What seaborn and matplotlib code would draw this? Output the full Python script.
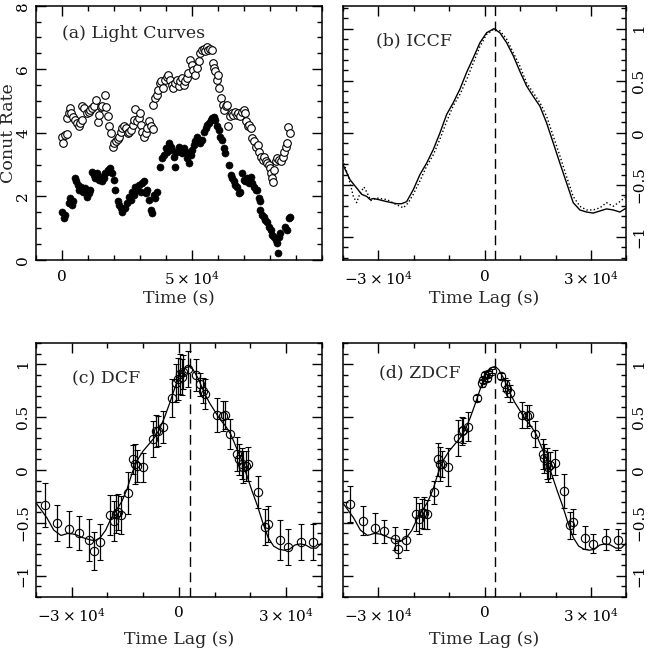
import numpy as np
import pandas as pd
import seaborn as sns
import matplotlib
matplotlib.use("Agg")
import matplotlib.pyplot as plt
from matplotlib.ticker import FixedLocator, MultipleLocator

# ---------------- data ----------------
# Light curves: time (s) and count rate for the two bands
soft_time = [0, 300, 1000, 1900, 2100, 2600, 3100, 3600, 4100, 4900, 5600, 6400, 6900, 7600,
             7900, 8600, 9500, 10300, 10900, 11500, 12400, 13100, 13800, 14400, 15000, 15600,
             16400, 16900, 17600, 18200, 18800, 19500, 20100, 20800, 21400, 22100, 22700,
             23300, 24000, 24600, 25300, 25900, 26500, 27200, 27800, 28200, 28700, 29500,
             30000, 30500, 31000, 31700, 32300, 32900, 33600, 34200, 34900, 35100, 35800,
             36400, 37100, 37700, 38300, 39000, 39600, 40300, 41000, 41700, 42300, 42900,
             43600, 44200, 44900, 45500, 46200, 46800, 47400, 48100, 48700, 49400, 50000,
             50600, 51300, 51900, 52600, 53200, 53800, 54500, 55100, 55800, 56400, 57100,
             57700, 58000, 58500, 59000, 59500, 59900, 60500, 61200, 61800, 62400, 63100,
             63700, 64100, 64600, 65300, 65900, 66700, 67300, 67900, 68600, 69200, 69900,
             70500, 71000, 71500, 72000, 72700, 73300, 74000, 74600, 75300, 75900, 76500,
             77200, 77800, 78500, 79100, 79700, 80000, 80400, 81000, 81300, 81700, 82300,
             82900, 83600, 84200, 84900, 85500, 86200, 86800, 87200, 87700]
soft_rate = [3.86, 3.67, 3.93, 3.97, 4.46, 4.62, 4.77, 4.62, 4.49, 4.41, 4.30, 4.20, 4.30, 4.41,
             4.85, 4.78, 4.62, 4.67, 4.72, 4.78, 4.85, 5.04, 4.34, 4.57, 4.81, 4.85,
             5.20, 4.81, 4.54, 4.20, 3.99, 3.57, 3.67, 3.73, 3.80, 3.88, 4.04,
             4.15, 4.20, 4.15, 3.99, 4.04, 4.09, 4.25, 4.41, 4.74, 4.36, 4.46,
             4.62, 4.25, 4.04, 3.88, 3.99, 4.15, 4.36, 4.20, 4.12, 4.88, 5.09,
             5.20, 5.35, 5.56, 5.62, 5.41, 5.67, 5.75, 5.83, 5.67, 5.51, 5.41,
             5.56, 5.67, 5.46, 5.62, 5.72, 5.51, 5.62, 5.72, 5.88, 6.30, 6.14,
             5.98, 5.83, 6.04, 6.25, 6.51, 6.61, 6.64, 6.56, 6.70, 6.61, 6.64,
             6.61, 6.19, 6.04, 5.93, 5.67, 5.83, 5.41, 5.09, 4.88, 4.72, 4.83,
             4.88, 4.20, 4.52, 4.62, 4.57, 4.67, 4.57, 4.62, 4.52, 4.67, 4.72,
             4.62, 4.36, 4.20, 4.25, 4.15, 3.83, 3.73, 3.57, 3.62, 3.41, 3.25,
             3.15, 3.25, 3.10, 3.04, 2.99, 2.89, 2.73, 2.57, 2.44, 2.83, 3.10,
             3.20, 3.15, 3.10, 3.25, 3.41, 3.57, 3.67, 4.17, 3.99]

hard_time = [0, 600, 1300, 2600, 3200, 3800, 4400, 4900, 5400, 6200, 6700, 7400, 8100, 9000,
             9600, 10300, 10900, 11500, 12200, 12800, 13500, 14100, 14700, 15400, 16000,
             16700, 17300, 17900, 18600, 19200, 19900, 20500, 21500, 22100, 22800, 23300,
             24100, 24900, 25800, 26400, 27100, 27700, 28300, 29000, 29600, 30300, 30900,
             31500, 32200, 32800, 33500, 34200, 34700, 35400, 36000, 36700, 37900, 38600,
             39200, 39900, 40500, 41200, 41800, 42400, 43100, 43700, 44400, 45000, 45600,
             46300, 46900, 47600, 48200, 48800, 49500, 50100, 50800, 51400, 52100, 52700,
             53300, 54000, 54600, 55300, 55900, 56500, 57200, 57800, 58500, 59100, 59700,
             60400, 60800, 61700, 62300, 62900, 64200, 64900, 65500, 66200, 66800, 67400,
             68100, 68700, 69400, 70000, 70600, 71300, 71900, 72600, 73200, 73800, 74500,
             75100, 75800, 76300, 76400, 77100, 77700, 78300, 79000, 79600, 80300, 80900,
             81500, 82200, 82800, 83500, 83300, 84100, 86000, 86700, 87300, 87700]
hard_rate = [1.52, 1.31, 1.42, 1.78, 1.94, 1.73, 1.84, 2.57, 2.47, 2.36, 2.20, 2.31, 2.15, 2.26,
             1.99, 2.10, 2.20, 2.78, 2.68, 2.57, 2.73, 2.52, 2.62, 2.47, 2.57,
             2.73, 2.78, 2.83, 2.89, 2.73, 2.52, 2.20, 1.84, 1.73, 1.63, 1.52,
             1.63, 1.78, 1.99, 1.89, 2.15, 2.05, 2.31, 2.20, 2.36, 2.15, 2.41,
             2.47, 2.10, 2.20, 1.89, 1.57, 1.47, 2.05, 1.94, 2.15, 2.94, 3.20,
             3.31, 3.52, 3.41, 3.67, 3.57, 3.46, 3.25, 2.94, 3.41, 3.57, 3.46,
             3.36, 3.52, 3.41, 3.20, 3.04, 3.31, 3.46, 3.62, 3.73, 3.88, 3.78,
             3.67, 3.78, 4.04, 4.15, 4.25, 4.30, 4.41, 4.46, 4.51, 4.41, 4.20,
             4.09, 3.88, 3.78, 3.52, 3.36, 2.99, 2.68, 2.57, 2.47, 2.36, 2.31,
             2.10, 2.15, 2.73, 2.52, 2.47, 2.57, 2.41, 2.62, 2.41, 2.31, 2.20,
             2.20, 1.94, 1.84, 1.57, 1.42, 1.36, 1.26, 1.21, 1.05, 0.94, 0.79,
             0.73, 0.63, 0.52, 0.73, 0.21, 0.84, 1.05, 0.94, 1.31, 1.36]

# Interpolated cross-correlation functions (two interpolation schemes)
iccf_lag = [-40000, -37940, -36060, -34650, -33240, -32300, -31360, -29950, -27600, -24790,
            -23380, -21970, -20100, -18220, -16340, -14460, -12580, -10700, -8830, -6950,
            -5070, -3190, -1310, 560, 2630, 4320, 6200, 8080, 9950, 11830, 13710, 15590,
            17470, 19340, 21220, 23100, 24980, 26860, 28730, 30610, 32490, 34370, 36250,
            38120, 40000]
iccf_a = [-0.30, -0.45, -0.53, -0.59, -0.61, -0.64, -0.63, -0.64, -0.66, -0.68,
          -0.68, -0.66, -0.545, -0.40, -0.29, -0.16, 0.0, 0.176, 0.29, 0.42,
          0.58, 0.72, 0.865, 0.96, 1.0, 0.96, 0.865, 0.74, 0.59, 0.45, 0.35, 0.256,
          0.096, -0.096, -0.29, -0.48, -0.67, -0.74, -0.76, -0.77, -0.75, -0.73, -0.74,
          -0.76, -0.72]
iccf_b_lag = [-40000, -38400, -37000, -36060, -35120, -34000, -33050, -32110, -30420, -27600,
              -24790, -22910, -21500, -20100, -18220, -16340, -14460, -12580, -10700, -8830,
              -6950, -5070, -3190, -1310, 560, 2440, 4320, 6200, 8080, 9950, 11830, 13710,
              15590, 17470, 19340, 21220, 23100, 24980, 26860, 28730, 30610, 32490, 34370,
              36250, 38120, 40000]
iccf_b = [-0.26, -0.42, -0.61, -0.67, -0.58, -0.52, -0.58, -0.65, -0.625, -0.64,
          -0.69, -0.72, -0.67, -0.59, -0.46, -0.32, -0.21, -0.06, 0.11, 0.26,
          0.37, 0.51, 0.67, 0.83, 0.945, 0.99, 0.98, 0.90, 0.77, 0.64, 0.48, 0.385,
          0.29, 0.16, -0.03, -0.22, -0.42, -0.61, -0.705, -0.74, -0.74, -0.72, -0.67,
          -0.705, -0.66, -0.61]

# Smoothed ICCF drawn over the discrete estimates
smooth_lag = [-40000, -37000, -35000, -33000, -31000, -29000, -27000, -25000, -23500, -22000,
              -20500, -19000, -17500, -16000, -14500, -13000, -11500, -10000, -8500, -7000,
              -5500, -4000, -2500, -1000, 500, 2000, 3000, 4000, 5500, 7000, 8500, 10000,
              11500, 13000, 14500, 16000, 17500, 19000, 20500, 22000, 23500, 25000, 26500,
              28000, 29500, 31000, 32500, 34000, 35500, 37000, 38500, 40000]
smooth_ccf = [-0.31, -0.45, -0.57, -0.62, -0.60, -0.61, -0.64, -0.66, -0.67, -0.64,
              -0.57, -0.46, -0.38, -0.30, -0.18, -0.02, 0.10, 0.18, 0.24, 0.30,
              0.38, 0.50, 0.64, 0.79, 0.92, 0.97, 0.98, 0.95, 0.86, 0.74, 0.64, 0.56,
              0.48, 0.42, 0.34, 0.22, 0.10, -0.05, -0.20, -0.34, -0.50, -0.64, -0.72,
              -0.75, -0.76, -0.75, -0.71, -0.70, -0.71, -0.74, -0.74, -0.69]

# Discrete correlation function
dcf_lag = [-37450, -34000, -30650, -27950, -25050, -23750, -22070, -19270, -18150, -17590,
           -16930, -16280, -14130, -12920, -12260, -11800, -10120, -7320, -6390, -5740,
           -4340, -2010, -790, -140, 330, 790, 1260, 2470, 4800, 5920, 6670, 7320,
           10770, 12260, 12920, 14320, 16370, 16930, 17590, 18050, 18700, 19450, 22250,
           24110, 24860, 28310, 30640, 34190, 37450]
dcf_val = [-0.33, -0.50, -0.56, -0.60, -0.66, -0.77, -0.68, -0.43, -0.48, -0.42,
           -0.40, -0.43, -0.22, 0.10, 0.06, 0.04, 0.025, 0.29, 0.37, 0.37,
           0.41, 0.68, 0.82, 0.86, 0.91, 0.88, 0.93, 0.96, 0.90, 0.81, 0.75, 0.72,
           0.52, 0.51, 0.52, 0.34, 0.15, 0.10, 0.06, 0.03, 0.04, 0.06, -0.21,
           -0.54, -0.51, -0.66, -0.73, -0.68, -0.68]
dcf_err = [0.21, 0.17, 0.17, 0.16, 0.20, 0.18, 0.17, 0.19, 0.19, 0.18,
           0.17, 0.18, 0.20, 0.14, 0.19, 0.15, 0.14, 0.17, 0.15, 0.14,
           0.15, 0.18, 0.18, 0.20, 0.19, 0.17, 0.16, 0.17, 0.15, 0.11, 0.12, 0.14,
           0.16, 0.14, 0.13, 0.14, 0.16, 0.15, 0.15, 0.15, 0.14, 0.16, 0.15,
           0.17, 0.17, 0.19, 0.17, 0.17, 0.17]

# Z-transformed discrete correlation function
zdcf_lag = [-37940, -34370, -30890, -28360, -25260, -24320, -22250, -19440, -18400, -17740,
            -17090, -16340, -14270, -13050, -12580, -11920, -10240, -7420, -6480, -6010,
            -4600, -2070, -850, -380, 0, 560, 1030, 2160, 4510, 5730, 6390, 7140,
            10420, 12020, 12580, 14180, 16340, 16810, 17470, 17940, 18400, 19810, 22350,
            24040, 24790, 28260, 30610, 34180, 37650]
zdcf_val = [-0.32, -0.48, -0.55, -0.58, -0.65, -0.75, -0.66, -0.42, -0.46, -0.41,
            -0.41, -0.42, -0.21, 0.10, 0.06, 0.056, 0.025, 0.30, 0.37, 0.375,
            0.41, 0.68, 0.82, 0.85, 0.90, 0.875, 0.91, 0.94, 0.89, 0.81, 0.77, 0.725,
            0.52, 0.51, 0.52, 0.34, 0.15, 0.11, 0.06, 0.03, 0.047, 0.07, -0.20,
            -0.525, -0.49, -0.64, -0.70, -0.66, -0.66]
zdcf_err = [0.17, 0.14, 0.14, 0.11, 0.11, 0.08, 0.10, 0.16, 0.15, 0.14,
            0.15, 0.14, 0.11, 0.16, 0.16, 0.12, 0.18, 0.17, 0.13, 0.12,
            0.14, 0.03, 0.03, 0.03, 0.03, 0.03, 0.03, 0.02, 0.03, 0.06, 0.08, 0.08,
            0.12, 0.11, 0.10, 0.12, 0.14, 0.14, 0.15, 0.14, 0.12, 0.12, 0.16,
            0.13, 0.12, 0.11, 0.09, 0.10, 0.10]

peak_lag = 3000

panel_titles = ["(a) Light Curves", "(b) ICCF", "(c) DCF", "(d) ZDCF"]
lag_ticks = [-30000, 0, 30000]
lag_ticklabels = [r"$-3\times10^{4}$", "0", r"$3\times10^{4}$"]
ccf_ticks = [-1, -0.5, 0, 0.5, 1]
ccf_ticklabels = ["\u22121", "\u22120.5", "0", "0.5", "1"]
time_ticks = [0, 50000]
time_ticklabels = ["0", r"$5\times10^{4}$"]
rate_ticks = [0, 2, 4, 6, 8]
rate_ticklabels = ["0", "2", "4", "6", "8"]

# ---------------- style ----------------
sns.set_style("ticks")
plt.rcParams["font.family"] = ["DejaVu Serif"]
plt.rcParams["mathtext.fontset"] = "dejavuserif"
plt.rcParams["axes.linewidth"] = 1.1
FS = 12.5   # axis labels and panel titles
TS = 11     # tick labels

fig = plt.figure(figsize=(6.47, 6.55), dpi=100)
ax_a = fig.add_axes([0.0556, 0.6031, 0.4417, 0.3882])
ax_b = fig.add_axes([0.5297, 0.6031, 0.4386, 0.3882])
ax_c = fig.add_axes([0.0556, 0.0890, 0.4417, 0.3869])
ax_d = fig.add_axes([0.5297, 0.0890, 0.4386, 0.3869])


def frame(ax, right_labels=False):
    for s in ax.spines.values():
        s.set_visible(True)
        s.set_color("black")
    ax.tick_params(which="both", direction="in", top=True, right=True,
                   bottom=True, left=True, colors="black", width=1.0,
                   labelsize=TS, pad=7)
    ax.tick_params(which="major", length=7)
    ax.tick_params(which="minor", length=3.5)
    if right_labels:
        ax.tick_params(axis="y", labelleft=False, labelright=True)
    ax.tick_params(axis="y", labelrotation=90, pad=4)
    for lab in ax.get_yticklabels():
        lab.set_va("center")


# (a) light curves
lc_soft = pd.DataFrame({"t": soft_time, "rate": soft_rate})
lc_hard = pd.DataFrame({"t": hard_time, "rate": hard_rate})
sns.scatterplot(data=lc_soft, x="t", y="rate", ax=ax_a, s=30, marker="o",
                facecolor="white", edgecolor="black", linewidth=0.8, zorder=3)
sns.scatterplot(data=lc_hard, x="t", y="rate", ax=ax_a, s=26, marker="o",
                color="black", edgecolor="black", linewidth=0.4, zorder=3)
ax_a.set_xlim(-10000, 100000)
ax_a.set_ylim(0, 8)
ax_a.xaxis.set_major_locator(FixedLocator(time_ticks))
ax_a.set_xticklabels(time_ticklabels)
ax_a.xaxis.set_minor_locator(MultipleLocator(10000))
ax_a.yaxis.set_major_locator(FixedLocator(rate_ticks))
ax_a.set_yticklabels(rate_ticklabels)
ax_a.yaxis.set_minor_locator(MultipleLocator(0.5))
ax_a.set_xlabel("Time (s)", fontsize=FS, labelpad=2)
ax_a.set_ylabel("Conut Rate", fontsize=FS)
ax_a.yaxis.set_label_coords(-0.067, 0.5)
ax_a.text(0, 7.12, panel_titles[0], fontsize=FS, ha="left", va="center")
frame(ax_a)

# (b) ICCF
df_ia = pd.DataFrame({"lag": iccf_lag, "r": iccf_a})
df_ib = pd.DataFrame({"lag": iccf_b_lag, "r": iccf_b})
sns.lineplot(data=df_ia, x="lag", y="r", ax=ax_b, color="black", lw=1.0,
             sort=False, estimator=None)
sns.lineplot(data=df_ib, x="lag", y="r", ax=ax_b, color="black", lw=1.0,
             linestyle=":", sort=False, estimator=None)
ax_b.set_ylim(-1.22, 1.22)
ax_b.text(-30600, 0.88, panel_titles[1], fontsize=FS, ha="left", va="center")


def ccf_panel(ax, lag, val, err, title, ty):
    df_s = pd.DataFrame({"lag": smooth_lag, "r": smooth_ccf})
    sns.lineplot(data=df_s, x="lag", y="r", ax=ax, color="black", lw=0.9,
                 sort=False, estimator=None)
    ax.errorbar(lag, val, yerr=err, fmt="o", ms=6, mfc="none", mec="black",
                mew=0.8, ecolor="black", elinewidth=0.9, capsize=2.3,
                capthick=0.9, zorder=3)
    ax.set_ylim(-1.2, 1.2)
    ax.text(-29800, ty, title, fontsize=FS, ha="left", va="center")


ccf_panel(ax_c, dcf_lag, dcf_val, dcf_err, panel_titles[2], 0.86)
ccf_panel(ax_d, zdcf_lag, zdcf_val, zdcf_err, panel_titles[3], 0.92)

for ax in (ax_b, ax_c, ax_d):
    ax.axvline(peak_lag, color="black", lw=1.0, ls=(0, (7, 4)), zorder=1)
    ax.set_xlim(-40000, 40000)
    ax.xaxis.set_major_locator(FixedLocator(lag_ticks))
    ax.set_xticklabels(lag_ticklabels)
    ax.xaxis.set_minor_locator(MultipleLocator(10000))
    ax.yaxis.set_major_locator(FixedLocator(ccf_ticks))
    ax.set_yticklabels(ccf_ticklabels)
    ax.yaxis.set_minor_locator(MultipleLocator(0.1))
    ax.set_ylabel("")

ax_b.set_xlabel("Time Lag (s)", fontsize=FS, labelpad=2)
ax_c.set_xlabel("Time Lag (s)", fontsize=FS, labelpad=5)
ax_d.set_xlabel("Time Lag (s)", fontsize=FS, labelpad=5)

frame(ax_b, right_labels=True)
frame(ax_c)
frame(ax_d, right_labels=True)

fig.savefig("out.png", dpi=100)
